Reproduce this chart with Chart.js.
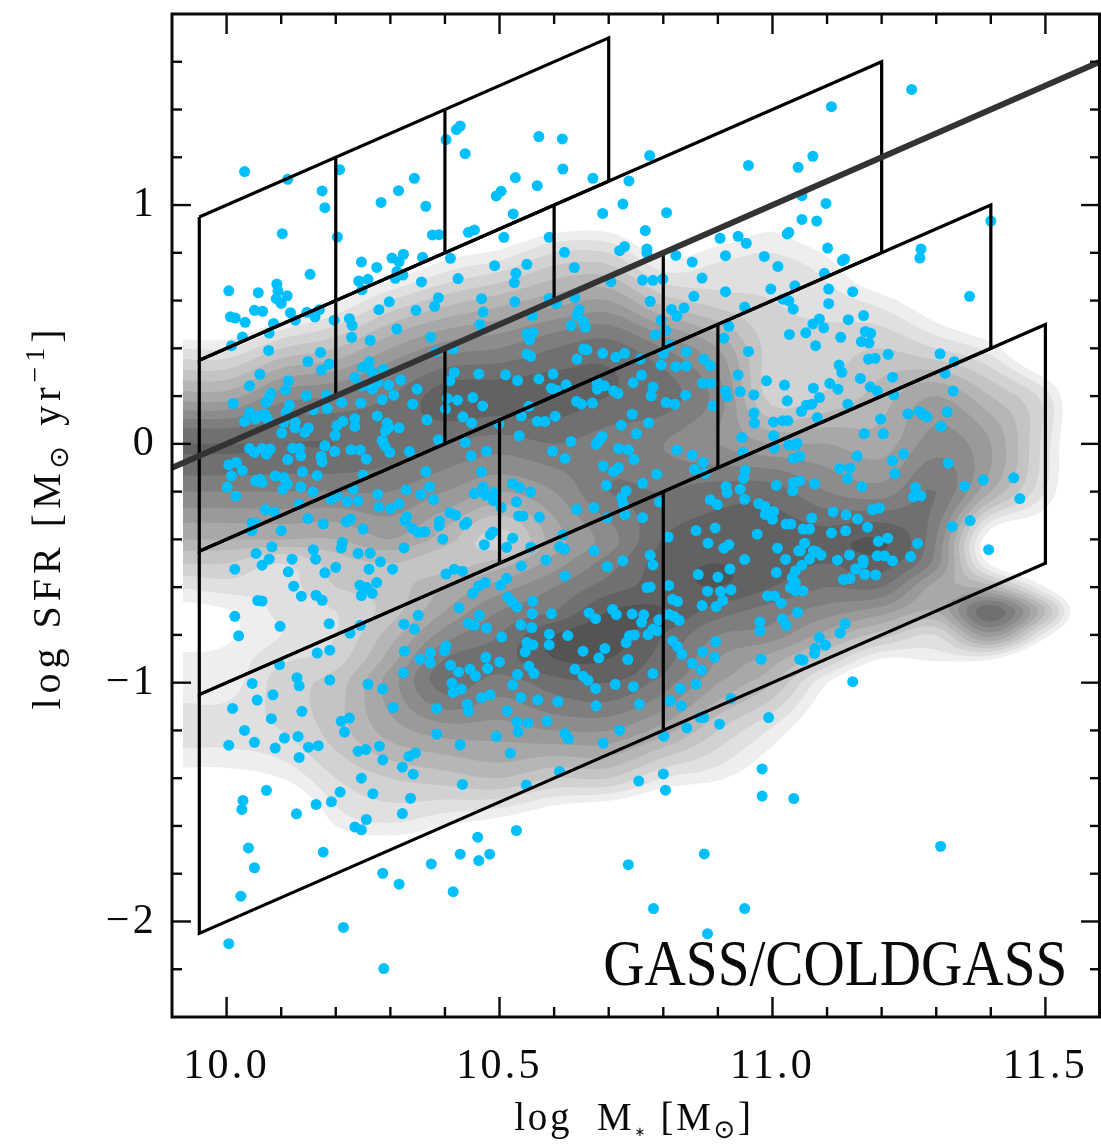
<!DOCTYPE html>
<html>
<head>
<meta charset="utf-8">
<style>html,body{margin:0;padding:0;background:#fff}canvas{display:block}</style>
<script src="https://cdn.jsdelivr.net/npm/chart.js@4/dist/chart.umd.min.js"></script>
</head>
<body>
<canvas id="c" width="1101" height="1144" style="width:1101px;height:1144px"></canvas>
<script>
const xTickLabels = [10.0, 10.5, 11.0, 11.5];
const yTickLabels = [1, 0, -1, -2];
const xMinorTicks = [10.1,10.2,10.3,10.4,10.6,10.7,10.8,10.9,11.1,11.2,11.3,11.4,11.6];
const yMinorTicks = [1.6,1.4,1.2,0.8,0.6,0.4,0.2,-0.2,-0.4,-0.6,-0.8,-1.2,-1.4,-1.6,-1.8,-2.2];

const mainSequence = [[9.9,-0.1],[11.6,1.6]];
const boxRow1 = [[9.95,0.95],[10.7,1.7],[10.7,1.1],[9.95,0.35],[9.95,0.95]];
const boxRow2 = [[9.95,0.35],[11.2,1.6],[11.2,0.8],[9.95,-0.45],[9.95,0.35]];
const boxRow3 = [[9.95,-0.45],[11.4,1.0],[11.4,0.4],[9.95,-1.05],[9.95,-0.45]];
const boxRow4 = [[9.95,-1.05],[11.5,0.5],[11.5,-0.5],[9.95,-2.05],[9.95,-1.05]];
const boxDividers = [[10.2,1.2,0.6],[10.4,1.4,0.8],[10.2,0.6,0.2],[10.4,0.4,0],[10.6,1.0,0.6],[10.8,0.8,0.4],[10.9,0.5,-0.1],[10.5,0.1,-0.5],[10.8,-0.2,-1.2]];

const densityLeftEdge = 9.92;
const densityX = [9.9,10.0,10.1,10.2,10.3,10.4,10.5,10.6,10.7,10.8,10.9,11.0,11.1,11.2,11.3,11.4,11.5,11.6];
const densityY = [1.0,0.8,0.6,0.4,0.2,0,-0.2,-0.4,-0.5,-0.6,-0.7,-0.8,-0.9,-1.0,-1.2,-1.4,-1.6,-1.8];
const densityLevels = [
[-3,-3,-3,-3,-3,-3,-3,-1.5,-1.2,-3,-2.5,-0.2,-3.5,-3,-3,-3,-3,-3],
[-3,-3,-3,-3,-1.5,0.4,1.3,3,3,0.5,1.5,2,0.8,-2.5,-3,-3,-3,-3],
[-3,-3,-0.9,0.8,3,4.5,5.5,6.5,7,4.5,3.5,3,2.5,1.5,-0.5,-2.5,-3,-3],
[2,2,4,5,7,8.5,9,10,10.5,9,7,3.5,3.5,4,3,1.5,-2,-3],
[6.5,6.5,8.5,9,10,11.5,11.5,11.5,11,10.5,8.5,3.5,4.2,5.5,7,5,2.5,-3],
[11,11,11,11,10.5,10,9.5,10,9.5,9,8,7,7,6.5,8.5,7,2.5,-3],
[9,9,9,9,9,8,7,8,10,10,10.5,10.5,9,8.5,10,6,2,-3],
[6,6,6,6,7,5.5,3.5,6.5,8.5,11,11.5,11.5,11.5,12,9,0,-1,-3],
[4,4,3,4.5,5,4.5,5.5,7.5,9.5,11.5,12,11.5,11,11.5,8.5,0.7,-1.5,-3],
[2,2.5,2.5,4,4.5,6,7.5,9,10.5,11.5,12,11,10,10,6.5,5.5,1,-3],
[0.5,0.9,2.3,3,4.5,7,9,10,12,12,10.5,9.5,8.5,7.5,6,10.8,5,-3],
[0.5,0.8,2,3,5.5,8.5,10,12,12.5,11,9,8.5,6.5,4.5,3,7.5,1.5,-3],
[1.2,1.3,2.8,3.5,6.5,10,10.5,12,12,10.5,8,6.5,4,1,1.3,1.2,-2,-3],
[1.5,1.5,3.5,4.5,7.5,10.5,9.5,10.5,11,9.5,7,5,1,-2,-2,-3,-3,-3],
[2.5,2.5,3,4.5,6.5,7.5,7.5,8,8,6.5,4,1.8,-1,-3,-3,-3,-3,-3],
[0.4,0.4,1,3,4,4.5,5,4,4,2,1.2,-0.5,-3,-3,-3,-3,-3,-3],
[-3,-3,-3,1,1.8,1,0.2,-1,-2,-2.5,-3,-3,-3,-3,-3,-3,-3,-3],
[-3,-3,-3,-3,-2.5,-3,-3,-3,-3,-3,-3,-3,-3,-3,-3,-3,-3,-3]
];

const galaxies = [
[10.033,1.14],[10.112,1.108],[10.175,1.059],[10.18,0.989],[10.207,1.148],[10.102,0.88],[10.203,0.866],[10.283,1.011],[10.315,1.06],[10.344,1.112],[10.365,0.995],[10.402,1.274],[10.421,1.316],[10.428,1.331],[10.437,1.215],[10.377,0.875],[10.389,0.876],[10.443,0.886],[10.454,0.896],[10.41,0.777],[10.359,0.781],[10.324,0.794],[10.303,0.778],[10.316,0.763],[10.247,0.761],[10.275,0.739],[10.312,0.722],[10.323,0.707],[10.309,0.693],[10.259,0.689],[10.242,0.682],[10.248,0.645],[10.357,0.678],[10.424,0.692],[10.153,0.71],[10.092,0.669],[10.094,0.641],[10.058,0.633],[10.004,0.641],[10.111,0.62],[10.091,0.608],[10.1,0.588],[10.051,0.559],[10.066,0.555],[10.007,0.532],[10.016,0.527],[10.034,0.509],[10.117,0.549],[10.147,0.551],[10.17,0.562],[10.162,0.532],[10.126,0.518],[10.086,0.504],[10.078,0.464],[10.029,0.447],[10.009,0.411],[10.077,0.391],[10.197,0.518],[10.225,0.524],[10.23,0.496],[10.229,0.446],[10.263,0.433],[10.279,0.562],[10.298,0.595],[10.312,0.481],[10.347,0.559],[10.381,0.576],[10.388,0.612],[10.374,0.447],[10.383,0.386],[10.415,0.397],[10.467,0.608],[10.47,0.552],[10.464,0.499],[10.172,0.383],[10.149,0.345],[10.174,0.309],[10.188,0.334],[10.261,0.344],[10.249,0.32],[10.287,0.312],
[10.061,0.291],[10.113,0.264],[10.042,0.243],[10.108,0.226],[10.081,0.212],[10.078,0.194],[10.072,0.173],[10.012,0.169],[10.146,0.201],[10.183,0.204],[10.115,0.162],[10.184,0.148],[10.159,0.143],[10.211,0.173],[10.246,0.171],[10.109,0.131],[10.042,0.131],[10.033,0.094],[10.053,0.104],[10.062,0.12],[10.07,0.124],[10.075,0.104],[10.105,0.09],[10.126,0.09],[10.125,0.067],[10.101,0.045],[10.15,0.066],[10.143,0.048],[10.213,0.094],[10.202,0.076],[10.199,0.036],[10.235,0.106],[10.235,0.073],[10.276,0.117],[10.294,0.087],[10.297,0.069],[10.291,0.055],[10.316,0.067],[10.285,0.185],[10.306,0.204],[10.297,0.246],[10.319,0.268],[10.349,0.229],[10.341,0.166],[10.367,0.101],[10.267,0.229],[10.235,0.278],[10.248,0.243],[10.277,0.257],[10.266,0.303],[10.409,0.264],[10.404,0.19],[10.423,0.183],[10.401,0.145],[10.451,0.194],[10.469,0.159],[10.433,0.113],[10.449,0.087],[10.417,0.299],[10.462,0.292],
[10.285,0.014],[10.29,-0.008],[10.299,-0.036],[10.335,-0.032],[10.388,0.017],[10.437,0.006],[10.448,-0.05],[10.476,-0.031],[10.042,-0.019],[10.051,-0.036],[10.065,-0.019],[10.073,-0.043],[10.08,-0.022],[10.121,-0.018],[10.134,-0.018],[10.136,-0.05],[10.18,-0.008],[10.198,-0.032],[10.228,-0.025],[10.245,-0.026],[10.256,-0.064],[10.112,-0.066],[10.173,-0.053],[10.175,-0.075],[10.004,-0.088],[10.018,-0.078],[10.029,-0.112],[10.009,-0.134],[10.001,-0.181],[10.017,-0.219],[10.053,-0.155],[10.061,-0.148],[10.065,-0.162],[10.089,-0.134],[10.105,-0.141],[10.111,-0.169],[10.103,-0.19],[10.139,-0.117],[10.166,-0.132],[10.136,-0.18],[10.158,-0.201],[10.25,-0.13],[10.365,-0.116],[10.467,-0.117],[10.329,-0.193],[10.372,-0.18],[10.356,-0.212],[10.379,-0.233],[10.277,-0.211],[10.232,-0.19],[10.202,-0.218],[10.191,-0.232],[10.221,-0.241],[10.241,-0.239],[10.279,-0.265],[10.3,-0.271],[10.316,-0.251],[10.133,-0.253],[10.071,-0.276],[10.088,-0.285],[10.47,-0.181],[10.454,-0.208],[10.474,-0.215],
[10.149,-0.313],[10.177,-0.335],[10.219,-0.327],[10.227,-0.315],[10.25,-0.357],[10.33,-0.306],[10.327,-0.322],[10.34,-0.353],[10.351,-0.371],[10.363,-0.368],[10.39,-0.324],[10.389,-0.343],[10.409,-0.289],[10.42,-0.299],[10.44,-0.329],[10.436,-0.338],[10.396,-0.399],[10.047,-0.332],[10.053,-0.332],[10.046,-0.364],[10.1,-0.363],[10.083,-0.431],[10.054,-0.459],[10.078,-0.483],[10.065,-0.508],[10.015,-0.525],[10.12,-0.483],[10.113,-0.536],[10.159,-0.443],[10.163,-0.483],[10.212,-0.413],[10.21,-0.436],[10.2,-0.517],[10.18,-0.54],[10.241,-0.459],[10.263,-0.458],[10.282,-0.494],[10.261,-0.525],[10.304,-0.525],[10.325,-0.436],[10.472,-0.422],[10.402,-0.545],[10.417,-0.525],[10.432,-0.533],[10.123,-0.596],[10.137,-0.638],[10.164,-0.634],[10.175,-0.655],[10.275,-0.581],[10.244,-0.592],[10.257,-0.602],[10.267,-0.626],[10.247,-0.635],[10.057,-0.656],[10.065,-0.658],[10.015,-0.722],[10.022,-0.804],[10.098,-0.764],[10.188,-0.753],[10.245,-0.76],[10.226,-0.792],[10.325,-0.755],[10.351,-0.718],[10.344,-0.776],[10.426,-0.686],[10.451,-0.626],[10.462,-0.595],[10.474,-0.581],[10.463,-0.718],[10.443,-0.751],[10.454,-0.76],[10.476,-0.771],[10.166,-0.876],[10.189,-0.864],[10.326,-0.868],[10.402,-0.846],[10.399,-0.867],[10.373,-0.876],[10.354,-0.902],[10.373,-0.917],[10.475,-0.894],[10.41,-0.927],[10.425,-0.955],[10.324,-0.958],[10.446,-0.944],[10.456,-0.972],[10.478,-0.941],[10.097,-0.924],[10.129,-0.979],
[10.047,-1.003],[10.133,-1.013],[10.189,-0.989],[10.259,-1.007],[10.286,-1.027],[10.085,-1.051],[10.056,-1.073],[10.011,-1.108],[10.138,-1.12],[10.082,-1.151],[10.305,-1.104],[10.385,-1.108],[10.413,-1.002],[10.43,-1.027],[10.415,-1.041],[10.467,-1.063],[10.483,-1.051],[10.441,-1.09],[10.443,-1.119],[10.21,-1.162],[10.225,-1.148],[10.216,-1.207],[10.033,-1.2],[10.131,-1.225],[10.106,-1.232],[10.051,-1.25],[10.004,-1.262],[10.089,-1.274],[10.15,-1.27],[10.168,-1.264],[10.133,-1.313],[10.385,-1.215],[10.428,-1.26],[10.241,-1.287],[10.255,-1.28],[10.28,-1.266],[10.286,-1.323],[10.334,-1.309],[10.346,-1.294],[10.322,-1.354],[10.342,-1.383],[10.247,-1.4],[10.432,-1.426],[10.073,-1.451],[10.03,-1.493],[10.028,-1.531],[10.208,-1.458],[10.268,-1.465],[10.337,-1.484],[10.192,-1.499],[10.164,-1.51],[10.128,-1.549],[10.322,-1.548],[10.256,-1.573],[10.235,-1.604],[10.247,-1.616],[10.04,-1.692],[10.177,-1.71],[10.051,-1.775],[10.026,-1.894],[10.46,-1.647],[10.428,-1.718],[10.462,-1.745],[10.482,-1.718],[10.375,-1.759],[10.286,-1.798],[10.316,-1.844],[10.415,-1.875],[10.214,-2.025],[10.004,-2.093],[10.288,-2.197],
[10.572,1.287],[10.615,1.277],[10.616,1.151],[10.529,1.115],[10.569,1.081],[10.671,1.112],[10.503,1.058],[10.494,1.038],[10.525,0.963],[10.775,1.207],[10.737,1.101],[10.726,1.004],[10.689,0.965],[10.806,0.968],[10.956,1.166],[11.047,1.158],[10.767,0.893],[10.508,0.865],[10.591,0.865],[10.619,0.802],[10.729,0.826],[10.72,0.809],[10.77,0.816],[10.77,0.799],[10.823,0.789],[10.904,0.861],[10.937,0.869],[10.952,0.84],[10.914,0.788],[10.853,0.761],[10.985,0.785],[11.01,0.743],[11.027,0.879],[11.03,0.886],[10.491,0.746],[10.55,0.752],[10.53,0.714],[10.527,0.675],[10.637,0.738],[10.762,0.686],[10.781,0.685],[10.799,0.69],[10.704,0.679],[10.871,0.694],[10.914,0.637],[10.856,0.618],[10.997,0.648],[11.041,0.662],[10.528,0.595],[10.591,0.609],[10.604,0.588],[10.638,0.613],[10.776,0.597],[10.646,0.562],[10.642,0.537],[10.654,0.511],[10.631,0.495],[10.657,0.488],[10.56,0.537],[10.815,0.563],[10.838,0.569],[10.825,0.535],[10.796,0.518],[10.804,0.475],[10.949,0.573],[11.019,0.606],[11.03,0.599],[11.038,0.564],[10.92,0.492],[11.031,0.458],[10.911,0.443],[10.956,0.387],[10.785,0.457],[10.55,0.46],[10.561,0.467],[10.555,0.435],[10.55,0.376],[10.557,0.366],[10.654,0.397],[10.66,0.394],[10.642,0.355],[10.689,0.379],[10.713,0.363],[10.729,0.379],[10.758,0.355],[10.8,0.379],[10.812,0.414],[10.842,0.386],[10.874,0.355],[10.886,0.327],[10.796,0.33],[10.823,0.323],[10.842,0.326],
[10.511,0.289],[10.533,0.265],[10.572,0.272],[10.598,0.292],[10.595,0.233],[10.604,0.225],[10.622,0.247],[10.554,0.157],[10.54,0.117],[10.569,0.094],[10.583,0.094],[10.602,0.116],[10.499,0.083],[10.536,0.034],[10.641,0.178],[10.65,0.166],[10.67,0.171],[10.679,0.257],[10.679,0.229],[10.692,0.243],[10.709,0.222],[10.717,0.211],[10.745,0.256],[10.76,0.288],[10.781,0.238],[10.778,0.201],[10.805,0.173],[10.821,0.166],[10.841,0.204],[10.872,0.254],[10.887,0.254],[10.891,0.159],[10.914,0.222],[10.917,0.198],[10.937,0.288],[10.941,0.219],[10.966,0.205],[10.989,0.264],[11.022,0.246],[11.027,0.18],[10.966,0.129],[10.967,0.087],[11.002,0.092],[11.019,0.097],[11.028,0.097],[10.743,0.124],[10.723,0.078],[10.773,0.088],[10.751,0.042],[10.688,0.031],[10.682,0.013],[10.677,-0.001],[10.631,0.01],[10.597,-0.031],[10.62,-0.061],[10.718,-0.019],[10.736,-0.025],[10.746,-0.065],[10.825,-0.026],[10.853,-0.047],[10.873,-0.077],[10.857,-0.107],[10.944,0.027],[10.946,-0.036],[11.002,0.034],[11.003,-0.017],[11.03,-0.005],[11.042,-0.005],[11.038,-0.061],[10.69,-0.093],[10.709,-0.116],[10.718,-0.1],[10.788,-0.127],[10.696,-0.174],[10.762,-0.165],[10.876,-0.124],[10.95,-0.11],[10.947,-0.144],[10.915,-0.179],[10.941,-0.19],[10.917,-0.204],[10.949,-0.232],[11.007,-0.174],[11.038,-0.162],[11.037,-0.197],[10.524,-0.167],[10.537,-0.183],[10.557,-0.202],[10.531,-0.243],[10.489,-0.204],[10.489,-0.239],[10.503,-0.267],[10.535,-0.302],[10.543,-0.302],[10.573,-0.307],[10.641,-0.275],[10.673,-0.267],[10.732,-0.197],[10.724,-0.225],[10.727,-0.253],[10.697,-0.309],[10.73,-0.296],[10.762,-0.309],[10.793,-0.243],[10.886,-0.234],[10.899,-0.254],[10.975,-0.25],[10.986,-0.262],[11.002,-0.283],[10.987,-0.296],[11.0,-0.316],[11.025,-0.336],[11.034,-0.336],[10.895,-0.352],[10.86,-0.363],[10.972,-0.378],[10.488,-0.369],[10.483,-0.381],[10.524,-0.395],[10.513,-0.433],[10.557,-0.433],[10.616,-0.381],[10.61,-0.431],[10.619,-0.441],[10.673,-0.447],[10.809,-0.39],[10.882,-0.416],[10.92,-0.423],[10.911,-0.437],[11.009,-0.437],[11.048,-0.448],[10.585,-0.486],[10.54,-0.511],[10.697,-0.514],[10.726,-0.489],[10.776,-0.466],[10.781,-0.507],[10.949,-0.484],[11.024,-0.484],[10.922,-0.524],[10.864,-0.547],[10.9,-0.558],[11.007,-0.539],[11.042,-0.532],[11.036,-0.56],[11.042,-0.581],[11.033,-0.602],[11.042,-0.616],[10.62,-0.553],[10.513,-0.564],[10.502,-0.592],[10.77,-0.602],[10.776,-0.599],[10.81,-0.593],[10.881,-0.617],[10.905,-0.618],[10.924,-0.611],[10.909,-0.656],[10.897,-0.681],[10.871,-0.677],[10.817,-0.651],[10.826,-0.66],[10.991,-0.637],[11.004,-0.637],[11.016,-0.667],[10.515,-0.642],[10.523,-0.662],[10.532,-0.683],[10.561,-0.659],[10.56,-0.711],[10.595,-0.711],[10.664,-0.708],[10.676,-0.732],[10.707,-0.693],[10.714,-0.715],[10.743,-0.712],[10.764,-0.716],[10.76,-0.747],[10.792,-0.737],[10.81,-0.714],[10.82,-0.723],[10.829,-0.739],[11.046,-0.706],[11.018,-0.732],[11.025,-0.76],[10.977,-0.746],[10.977,-0.782],[10.781,-0.776],[10.772,-0.799],[10.789,-0.783],[10.539,-0.758],[10.559,-0.769],[10.504,-0.809],[10.591,-0.797],[10.625,-0.803],[10.747,-0.8],[10.738,-0.804],[10.732,-0.832],[10.55,-0.832],[10.561,-0.842],[10.547,-0.871],[10.591,-0.842],[10.693,-0.857],[10.653,-0.868],[10.682,-0.896],[10.735,-0.903],[10.817,-0.825],[10.826,-0.849],[10.834,-0.881],[10.896,-0.828],[10.872,-0.871],[10.894,-0.894],[10.853,-0.919],[10.87,-0.947],[10.979,-0.902],[11.05,-0.902],[10.5,-0.913],[10.554,-0.931],[10.563,-0.961],[10.533,-0.966],[10.638,-0.944],[10.653,-0.973],[10.662,-0.99],[10.781,-0.962],
[10.524,-1.01],[10.539,-1.062],[10.57,-1.072],[10.607,-1.079],[10.676,-1.024],[10.677,-1.097],[10.712,-1.007],[10.745,-1.017],[10.756,-1.09],[10.831,-1.024],[10.86,-1.006],[10.813,-1.077],[10.833,-1.097],[10.924,-1.066],[10.514,-1.118],[10.532,-1.164],[10.552,-1.169],[10.587,-1.16],[10.534,-1.206],[10.494,-1.225],[10.62,-1.213],[10.626,-1.236],[10.72,-1.199],[10.69,-1.253],[10.801,-1.224],[10.843,-1.189],[10.868,-1.146],[10.874,-1.146],[10.903,-1.174],[10.993,-1.146],[10.52,-1.296],[10.61,-1.372],[10.549,-1.428],[10.8,-1.382],[10.755,-1.412],[10.804,-1.45],[10.981,-1.361],[10.981,-1.475],[11.039,-1.485],[10.531,-1.619],[10.875,-1.717],[10.736,-1.762],[10.782,-1.946],[10.949,-1.946],[10.881,-2.051],
[11.255,1.484],[11.108,1.412],[11.074,1.204],[11.054,1.039],[11.098,1.007],[11.054,0.94],[11.081,0.933],[11.4,0.933],[11.101,0.82],[11.132,0.774],[11.128,0.767],[11.272,0.816],[11.27,0.778],[11.095,0.714],[11.103,0.648],[11.147,0.637],[11.361,0.618],[11.103,0.587],[11.167,0.537],[11.139,0.52],[11.086,0.523],[11.074,0.502],[11.094,0.486],[11.061,0.465],[11.125,0.446],[11.17,0.471],[11.18,0.463],[11.163,0.428],[11.177,0.422],[11.079,0.411],[11.212,0.375],[11.176,0.355],[11.188,0.358],[11.307,0.377],[11.333,0.344],[11.122,0.33],
[11.127,0.299],[11.161,0.274],[11.22,0.279],[11.316,0.296],[11.105,0.253],[11.12,0.229],[11.075,0.233],[11.179,0.239],[11.192,0.221],[11.222,0.205],[11.331,0.221],[11.086,0.194],[11.072,0.166],[11.062,0.162],[11.053,0.136],[11.138,0.166],[11.082,0.11],[11.248,0.126],[11.269,0.136],[11.275,0.124],[11.283,0.113],[11.32,0.134],[11.309,0.073],[11.198,0.104],[11.168,0.043],[11.203,0.042],[11.045,0.003],[11.155,-0.051],[11.24,-0.042],[11.22,-0.071],[11.322,-0.081],[11.05,-0.052],[11.123,-0.103],[11.142,-0.102],[11.137,-0.146],[11.224,-0.124],[11.164,-0.179],[11.077,-0.167],[11.05,-0.155],[11.442,-0.142],[11.386,-0.151],[11.352,-0.177],[11.453,-0.229],[11.262,-0.183],[11.258,-0.222],[11.272,-0.218],[11.072,-0.31],[11.111,-0.285],[11.135,-0.297],[11.156,-0.315],[11.183,-0.275],[11.196,-0.269],[11.174,-0.349],[11.108,-0.373],[11.134,-0.364],[11.056,-0.357],[11.068,-0.357],[11.362,-0.321],[11.329,-0.346],[11.211,-0.395],[11.194,-0.408],[11.266,-0.417],[11.396,-0.443],[11.059,-0.416],[11.051,-0.448],[11.075,-0.448],[11.081,-0.452],[11.089,-0.466],[11.068,-0.483],[11.054,-0.508],[11.119,-0.487],[11.141,-0.465],[11.166,-0.486],[11.166,-0.5],[11.192,-0.469],[11.205,-0.469],[11.22,-0.49],[11.253,-0.472],[11.152,-0.524],[11.169,-0.546],[11.189,-0.549],[11.13,-0.568],[11.142,-0.564],[11.056,-0.616],[11.133,-0.753],[11.124,-0.792],[11.086,-0.811],[11.097,-0.843],[11.078,-0.857],[11.077,-0.877],[11.056,-0.906],[11.147,-0.996],[11.308,-1.685]
];

const toXY = a => a.map(p => ({x:p[0], y:p[1]}));
const ink = '#0a0a0a';
const serif = '"Liberation Serif", serif';

function catmull(p0,p1,p2,p3,t){
  return 0.5*((2*p1)+(-p0+p2)*t+(2*p0-5*p1+4*p2-p3)*t*t+(-p0+3*p1-3*p2+p3)*t*t*t);
}
function sampleDensity(K){
  const nr=densityLevels.length, nc=densityX.length;
  const byRow=densityLevels.map(r=>{
    const out=[];
    for(let i=0;i<nc-1;i++){
      for(let k=0;k<K;k++){
        out.push(catmull(r[Math.max(i-1,0)],r[i],r[i+1],r[Math.min(i+2,nc-1)],k/K));
      }
    }
    out.push(r[nc-1]);
    return out;
  });
  const fine=[];
  for(let j=0;j<nr-1;j++){
    for(let k=0;k<K;k++){
      const a=byRow[Math.max(j-1,0)],b=byRow[j],c=byRow[j+1],d=byRow[Math.min(j+2,nr-1)];
      fine.push(b.map((_,i)=>catmull(a[i],b[i],c[i],d[i],k/K)));
    }
  }
  fine.push(byRow[nr-1]);
  return fine;
}
const densityPlugin={
  id:'density',
  beforeDatasetsDraw(chart){
    const ctx=chart.ctx,X=chart.scales.x,Y=chart.scales.y,a=chart.chartArea,K=6;
    const fine=sampleDensity(K);
    const px=i=>{const f=i/K,n=Math.min(Math.floor(f),densityX.length-2);return X.getPixelForValue(densityX[n]+(densityX[n+1]-densityX[n])*(f-n));};
    const py=j=>{const f=j/K,n=Math.min(Math.floor(f),densityY.length-2);return Y.getPixelForValue(densityY[n]+(densityY[n+1]-densityY[n])*(f-n));};
    ctx.save();
    const left=X.getPixelForValue(densityLeftEdge);
    ctx.beginPath();ctx.rect(left,a.top,a.right-left,a.bottom-a.top);ctx.clip();
    for(let lev=1;lev<=12;lev++){
      const g=238-14*(lev-1);
      ctx.fillStyle='rgb('+g+','+g+','+g+')';
      ctx.beginPath();
      for(let j=0;j<fine.length-1;j++){
        for(let i=0;i<fine[0].length-1;i++){
          const v=[fine[j][i],fine[j][i+1],fine[j+1][i+1],fine[j+1][i]];
          if(v[0]<lev&&v[1]<lev&&v[2]<lev&&v[3]<lev)continue;
          const cx=[px(i),px(i+1),px(i+1),px(i)],cy=[py(j),py(j),py(j+1),py(j+1)];
          let first=true;
          for(let q=0;q<4;q++){
            const r=(q+1)%4;
            if(v[q]>=lev){
              if(first){ctx.moveTo(cx[q],cy[q]);first=false;}else ctx.lineTo(cx[q],cy[q]);
            }
            if((v[q]>=lev)!==(v[r]>=lev)){
              const t=(lev-v[q])/(v[r]-v[q]);
              const ex=cx[q]+(cx[r]-cx[q])*t,ey=cy[q]+(cy[r]-cy[q])*t;
              if(first){ctx.moveTo(ex,ey);first=false;}else ctx.lineTo(ex,ey);
            }
          }
          ctx.closePath();
        }
      }
      ctx.fill();
    }
    ctx.restore();
  }
};

function drawRuns(ctx,runs,spacing){
  ctx.letterSpacing=spacing+'px';
  let w=0;
  runs.forEach(r=>{ctx.font=r.size+'px '+(r.family||serif);w+=ctx.measureText(r.text).width+(r.gap||0);});
  let x=-w/2;
  ctx.textAlign='left';ctx.textBaseline='alphabetic';
  runs.forEach(r=>{
    ctx.font=r.size+'px '+(r.family||serif);
    ctx.fillText(r.text,x,r.dy||0);
    x+=ctx.measureText(r.text).width+(r.gap||0);
  });
}
const framePlugin={
  id:'frame',
  beforeDraw(chart){chart.ctx.letterSpacing='3.3px';},
  afterDraw(chart){
    const ctx=chart.ctx,X=chart.scales.x,Y=chart.scales.y,a=chart.chartArea;
    ctx.save();
    ctx.strokeStyle=ink;ctx.fillStyle=ink;ctx.lineCap='butt';
    ctx.lineWidth=2.4;
    const tick=(x1,y1,x2,y2)=>{ctx.beginPath();ctx.moveTo(x1,y1);ctx.lineTo(x2,y2);ctx.stroke();};
    xTickLabels.forEach(v=>{const p=X.getPixelForValue(v);tick(p,a.bottom,p,a.bottom-20);tick(p,a.top,p,a.top+20);});
    xMinorTicks.forEach(v=>{const p=X.getPixelForValue(v);tick(p,a.bottom,p,a.bottom-10);tick(p,a.top,p,a.top+10);});
    yTickLabels.forEach(v=>{const p=Y.getPixelForValue(v);tick(a.left,p,a.left+19,p);tick(a.right,p,a.right-19,p);});
    yMinorTicks.forEach(v=>{const p=Y.getPixelForValue(v);tick(a.left,p,a.left+10,p);tick(a.right,p,a.right-10,p);});
    ctx.lineWidth=3;ctx.lineJoin='miter';
    ctx.strokeRect(a.left,a.top,a.right-a.left-0.5,a.bottom-a.top);

    ctx.save();
    ctx.letterSpacing='0px';
    ctx.font='66px '+serif;ctx.textAlign='right';ctx.textBaseline='alphabetic';
    ctx.fillText('GASS/COLDGASS',X.getPixelForValue(11.54),Y.getPixelForValue(-2.264),464);
    ctx.restore();

    ctx.save();
    ctx.translate(634,1130);
    drawRuns(ctx,[
      {text:'log  M',size:39},
      {text:'∗',size:13,dy:6,family:'"DejaVu Sans"'},
      {text:' [M',size:39},
      {text:'⊙',size:26,dy:8,family:'"DejaVu Sans"'},
      {text:']',size:39}
    ],2.7);
    ctx.restore();

    ctx.save();
    ctx.translate(60,517);
    ctx.rotate(-Math.PI/2);
    drawRuns(ctx,[
      {text:'log SFR [M',size:40},
      {text:'⊙',size:27,dy:8,family:'"DejaVu Sans"'},
      {text:' yr',size:40},
      {text:'−1',size:28,dy:-16},
      {text:']',size:40}
    ],5);
    ctx.restore();
    ctx.restore();
  }
};

const noPad=s=>{s.paddingLeft=0;s.paddingRight=0;s.paddingTop=0;s.paddingBottom=0;};
const lineSet=(data,width,color,order)=>({type:'scatter',data:toXY(data),showLine:true,borderColor:color,backgroundColor:color,borderWidth:width,pointRadius:0,fill:false,tension:0,order,borderJoinStyle:'miter',borderCapStyle:'butt'});
const datasets=[
  {label:'galaxies',type:'scatter',data:toXY(galaxies),backgroundColor:'#00bfff',borderColor:'#00bfff',borderWidth:0,pointRadius:5.5,pointHoverRadius:5.5,showLine:false,order:5},
  lineSet(boxRow1,3.2,'#000',3),lineSet(boxRow2,3.2,'#000',3),lineSet(boxRow3,3.2,'#000',3),lineSet(boxRow4,3.2,'#000',3),
  ...boxDividers.map(d=>lineSet([[d[0],d[1]],[d[0],d[2]]],3.2,'#000',3)),
  lineSet(mainSequence,6,'#333333',1)
];
new Chart(document.getElementById('c').getContext('2d'),{
  type:'scatter',
  data:{datasets},
  options:{
    responsive:false,animation:false,devicePixelRatio:1,
    layout:{autoPadding:false,padding:{top:14,right:1,left:0,bottom:0}},
    plugins:{legend:{display:false},tooltip:{enabled:false},title:{display:false}},
    scales:{
      x:{type:'linear',min:9.9,max:11.6,
        grid:{display:false,drawTicks:false},border:{display:false},
        afterFit(s){s.height=127;noPad(s);},
        afterBuildTicks(s){s.ticks=xTickLabels.map(v=>({value:v}));},
        ticks:{autoSkip:false,maxRotation:0,padding:25,color:ink,font:{family:serif,size:42},callback:v=>Number(v).toFixed(1)}},
      y:{type:'linear',min:-2.4,max:1.8,
        grid:{display:false,drawTicks:false},border:{display:false},
        afterFit(s){s.width=172;noPad(s);},
        afterBuildTicks(s){s.ticks=yTickLabels.map(v=>({value:v}));},
        ticks:{autoSkip:false,padding:15,color:ink,font:{family:serif,size:42},callback:v=>(v<0?'−'+Math.abs(v):String(v))}}
    }
  },
  plugins:[densityPlugin,framePlugin]
});
</script>
</body>
</html>
